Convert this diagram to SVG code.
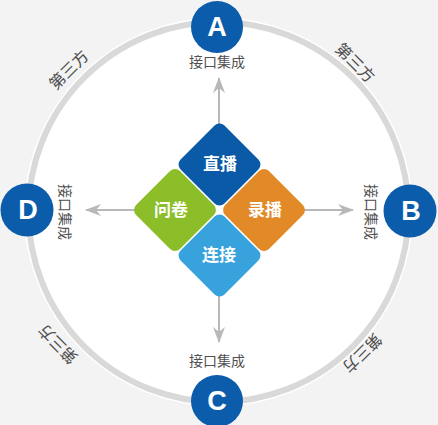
<svg xmlns="http://www.w3.org/2000/svg" width="438" height="425" viewBox="0 0 438 425">
<defs>
<style>
.lbl{font-family:"Liberation Sans","Noto Sans CJK SC",sans-serif;font-size:14px;fill:#505050;text-anchor:middle;dominant-baseline:central}
.tp{font-family:"Liberation Sans","Noto Sans CJK SC",sans-serif;font-size:16px;fill:#4a4a4a;text-anchor:middle;dominant-baseline:central}
.dtx{font-family:"Liberation Sans","Noto Sans CJK SC",sans-serif;font-size:17px;font-weight:bold;fill:#ffffff;text-anchor:middle;dominant-baseline:central}
.ltr{font-family:"Liberation Sans",Arial,sans-serif;font-size:27px;font-weight:bold;fill:#ffffff;text-anchor:middle;dominant-baseline:central}
.node{fill:#0b5cab}
.conn{stroke:#b8b8b8;stroke-width:2;fill:none}
</style>
<marker id="ah" viewBox="0 0 16 12" refX="15" refY="6" markerWidth="16" markerHeight="12" markerUnits="userSpaceOnUse" orient="auto">
<path d="M0,0 L16,6 L0,12 L5,6 Z" fill="#b8b8b8"/>
</marker>
</defs>
<rect x="0" y="0" width="438" height="425" fill="#f3f3f3"/>
<circle cx="218.5" cy="212" r="193.5" fill="none" stroke="#ffffff" stroke-width="2"/>
<circle cx="218.5" cy="212" r="190" fill="#ffffff" stroke="#d9d9d9" stroke-width="6"/>

<g id="connectors">
<line class="conn" x1="219" y1="126" x2="219" y2="78" marker-end="url(#ah)"/>
<line class="conn" x1="219" y1="294" x2="219" y2="342" marker-end="url(#ah)"/>
<line class="conn" x1="135" y1="210" x2="86" y2="210" marker-end="url(#ah)"/>
<line class="conn" x1="303" y1="210" x2="353" y2="210" marker-end="url(#ah)"/>
</g>

<g id="live">
<rect x="188.5" y="133.5" width="62" height="62" rx="7" fill="#0b5aa8" transform="rotate(45 219.5 164.5)"/>
<text class="dtx" x="220" y="164.5">直播</text>
</g>
<g id="record">
<rect x="233" y="179" width="62" height="62" rx="7" fill="#e38a28" transform="rotate(45 264 210)"/>
<text class="dtx" x="265" y="210">录播</text>
</g>
<g id="survey">
<rect x="144" y="179" width="62" height="62" rx="7" fill="#8bbe28" transform="rotate(45 175 210)"/>
<text class="dtx" x="171" y="210">问卷</text>
</g>
<g id="connect">
<rect x="188.5" y="224.5" width="62" height="62" rx="7" fill="#37a2db" transform="rotate(45 219.5 255.5)"/>
<text class="dtx" x="219" y="255.5">连接</text>
</g>

<g id="nodeA">
<circle class="node" cx="217" cy="27" r="26"/>
<text class="ltr" x="217" y="27">A</text>
<text class="lbl" x="217" y="62">接口集成</text>
</g>
<g id="nodeB">
<circle class="node" cx="410" cy="211" r="26.5"/>
<text class="ltr" x="411" y="211">B</text>
<text class="lbl" transform="translate(371 212) rotate(90)">接口集成</text>
</g>
<g id="nodeC">
<circle class="node" cx="217" cy="401" r="26"/>
<text class="ltr" x="217" y="401">C</text>
<text class="lbl" x="217" y="361">接口集成</text>
</g>
<g id="nodeD">
<circle class="node" cx="27" cy="210" r="26.5"/>
<text class="ltr" x="28" y="210">D</text>
<text class="lbl" transform="translate(65 212) rotate(90)">接口集成</text>
</g>

<g id="thirdparty">
<text class="tp" transform="translate(69 70) rotate(-45)">第三方</text>
<text class="tp" transform="translate(355 63) rotate(45)">第三方</text>
<text class="tp" transform="translate(58 344) rotate(-135)">第三方</text>
<text class="tp" transform="translate(362 353) rotate(135)">第三方</text>
</g>
</svg>
